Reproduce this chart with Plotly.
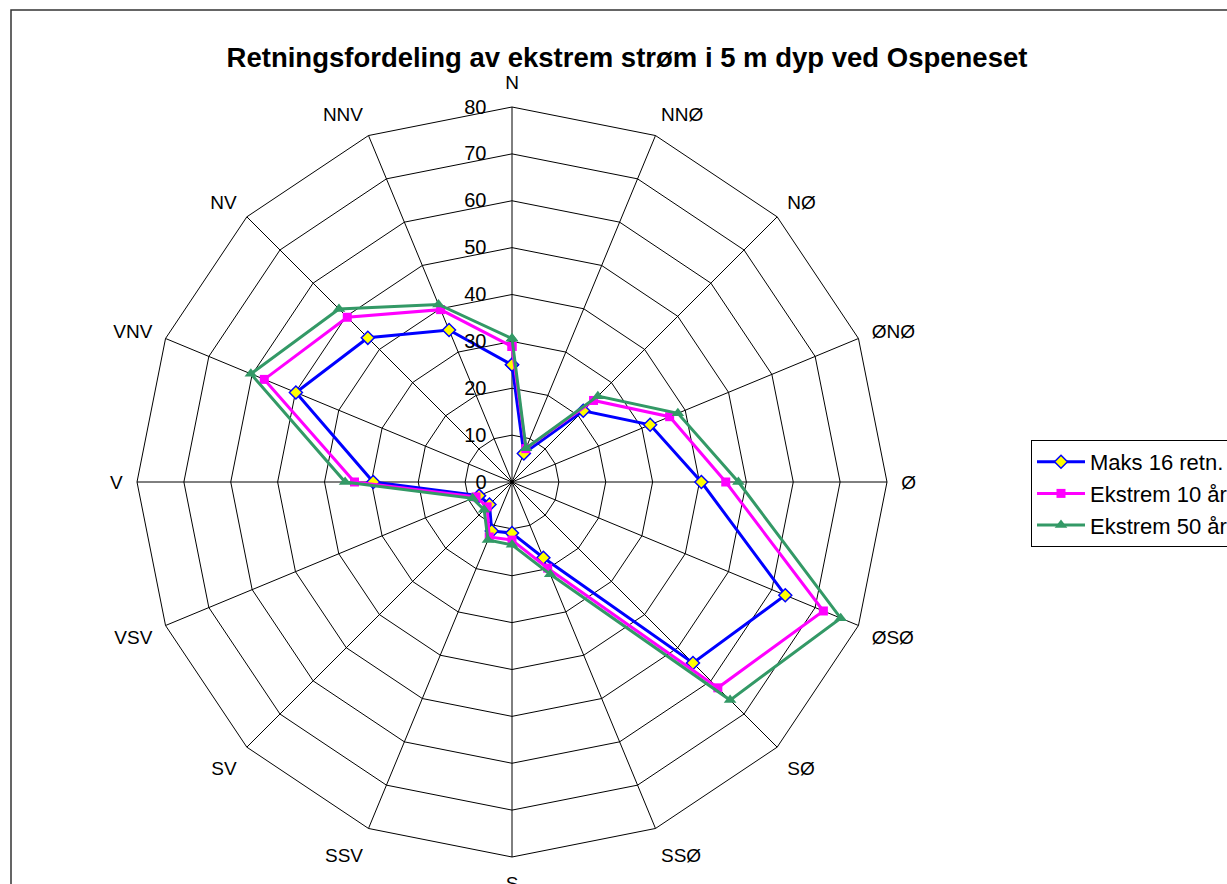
import plotly.graph_objects as go

# Compass sectors (16 directions), clockwise from north
directions = ["N", "NNØ", "NØ", "ØNØ", "Ø", "ØSØ", "SØ", "SSØ",
              "S", "SSV", "SV", "VSV", "V", "VNV", "NV", "NNV"]

# Current speed per direction (cm/s)
maks_16 = [25.0, 6.6, 21.5, 31.9, 40.4, 63.1, 54.6, 17.5,
           10.9, 11.3, 6.8, 7.6, 29.6, 49.9, 43.5, 35.1]
ekstrem_10 = [28.9, 7.7, 24.6, 36.4, 45.6, 71.9, 62.1, 19.9,
              12.4, 12.7, 7.5, 8.3, 33.6, 57.2, 49.7, 39.8]
ekstrem_50 = [30.6, 7.8, 25.9, 38.3, 48.3, 75.9, 65.8, 21.3,
              13.4, 13.4, 8.4, 9.1, 35.6, 60.3, 52.2, 41.0]

radial_ticks = [0, 10, 20, 30, 40, 50, 60, 70, 80]


def closed(values):
    return values + values[:1]


theta = closed(directions)

fig = go.Figure()
fig.add_trace(go.Scatterpolar(
    r=closed(maks_16), theta=theta, mode="lines+markers",
    name="Maks 16 retn.",
    line=dict(color="#0000FF", width=3),
    marker=dict(symbol="diamond", size=10, color="#FFFF00",
                line=dict(color="#0000FF", width=1.5)),
))
fig.add_trace(go.Scatterpolar(
    r=closed(ekstrem_10), theta=theta, mode="lines+markers",
    name="Ekstrem 10 år",
    line=dict(color="#FF00FF", width=3),
    marker=dict(symbol="square", size=9, color="#FF00FF"),
))
fig.add_trace(go.Scatterpolar(
    r=closed(ekstrem_50), theta=theta, mode="lines+markers",
    name="Ekstrem 50 år",
    line=dict(color="#339966", width=3),
    marker=dict(symbol="triangle-up", size=11, color="#339966"),
))

W, H = 1227, 884
cx, cy, R = 512, 482, 375

fig.update_layout(
    width=W, height=H,
    margin=dict(l=0, r=0, t=0, b=0, autoexpand=False),
    paper_bgcolor="white",
    plot_bgcolor="white",
    font=dict(family="Liberation Sans, Arial, sans-serif", color="black"),
    title=dict(
        text="<b>Retningsfordeling av ekstrem strøm i 5 m dyp ved Ospeneset</b>",
        x=627 / W, xanchor="center", y=1 - 57 / H, yanchor="middle",
        font=dict(size=27.5, color="black"),
    ),
    polar=dict(
        domain=dict(x=[(cx - R) / W, (cx + R) / W],
                    y=[(H - cy - R) / H, (H - cy + R) / H]),
        bgcolor="white",
        gridshape="linear",
        radialaxis=dict(
            range=[0, 80], tickvals=radial_ticks, angle=90,
            side="counterclockwise", tickangle=90,
            showline=False,
            gridcolor="black", gridwidth=1,
            ticks="outside", ticklen=18, tickcolor="rgba(0,0,0,0)",
            tickfont=dict(size=20, color="black"),
        ),
        angularaxis=dict(
            categoryorder="array", categoryarray=directions,
            rotation=90, direction="clockwise",
            showline=True, linecolor="black", linewidth=1,
            gridcolor="black", gridwidth=1,
            ticks="outside", ticklen=10, tickcolor="rgba(0,0,0,0)",
            tickfont=dict(size=19, color="black"),
        ),
    ),
    showlegend=True,
    legend=dict(
        x=1031 / W, xanchor="left", y=1 - 440 / H, yanchor="top",
        bgcolor="white", bordercolor="black", borderwidth=1,
        font=dict(size=22, color="black"),
        itemwidth=48,
    ),
    shapes=[dict(
        type="rect", xref="paper", yref="paper",
        x0=11 / W, x1=1.05, y0=-0.05, y1=1 - 10 / H,
        line=dict(color="#333333", width=1.5), fillcolor="rgba(0,0,0,0)",
        layer="below",
    )],
)

fig.write_html("out.html")
